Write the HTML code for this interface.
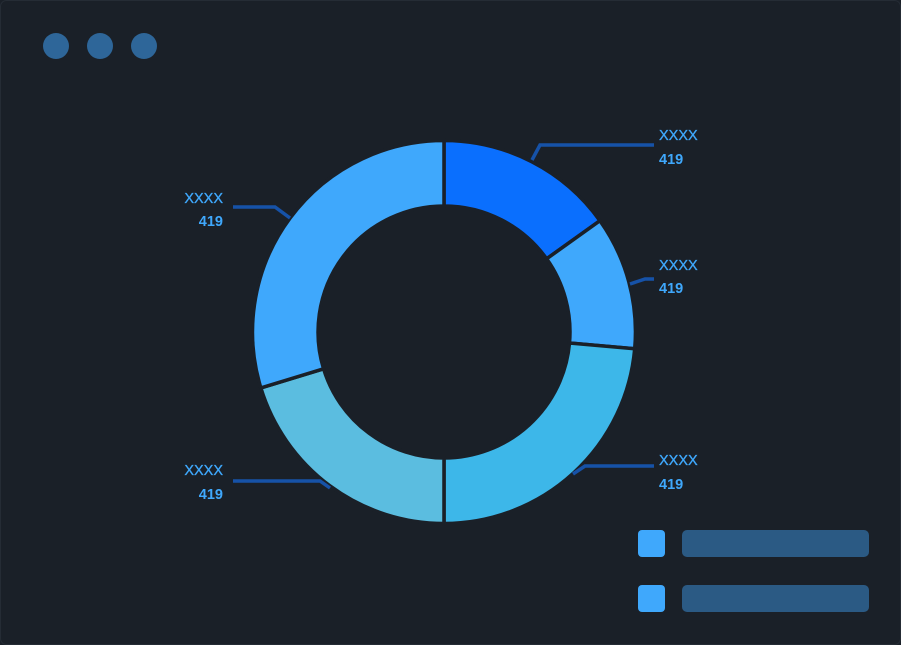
<!DOCTYPE html>
<html><head><style>
html,body{margin:0;padding:0;background:#1a2028;}
body{width:901px;height:645px;overflow:hidden;}
</style></head><body>
<svg width="901" height="645" xmlns="http://www.w3.org/2000/svg" style="display:block">
<rect x="0.5" y="0.5" width="900" height="644" rx="6" fill="#1a2028" stroke="#252c35"/>
<circle cx="56" cy="46" r="13" fill="#2e6699"/>
<circle cx="100" cy="46" r="13" fill="#2e6699"/>
<circle cx="144" cy="46" r="13" fill="#2e6699"/>
<g transform="translate(444,332) scale(1.008) translate(-444,-332)">
<g stroke="#1a2028" stroke-width="3.5" stroke-linejoin="miter">
<path d="M444,142 A190,190 0 0 1 598.7,221.6 L545.8,259.4 A125,125 0 0 0 444,207 Z" fill="#0a6ffe"/>
<path d="M598.7,221.6 A190,190 0 0 1 633.2,348.6 L568.5,342.9 A125,125 0 0 0 545.8,259.4 Z" fill="#3fa8fc"/>
<path d="M633.2,348.6 A190,190 0 0 1 444,522 L444,457 A125,125 0 0 0 568.5,342.9 Z" fill="#3db7e9"/>
<path d="M444,522 A190,190 0 0 1 262.3,387.5 L324.5,368.5 A125,125 0 0 0 444,457 Z" fill="#5bbde0"/>
<path d="M262.3,387.5 A190,190 0 0 1 444,142 L444,207 A125,125 0 0 0 324.5,368.5 Z" fill="#3fa8fc"/>
</g>
</g>
<g fill="none" stroke="#1652a8" stroke-width="3.5">
<polyline points="532,160 540,145 654,145"/>
<polyline points="630,284 645,279 654,279"/>
<polyline points="573,474 585,466 654,466"/>
<polyline points="290,218 275,207 233,207"/>
<polyline points="330,488 320,481 233,481"/>
</g>
<g font-family="Liberation Sans, sans-serif" font-size="14.5" fill="#3fa8fc">
<text x="659" y="140" stroke="#3fa8fc" stroke-width="0.3">XXXX</text>
<text x="659" y="164" font-weight="bold">419</text>
<text x="659" y="270" stroke="#3fa8fc" stroke-width="0.3">XXXX</text>
<text x="659" y="293" font-weight="bold">419</text>
<text x="659" y="465" stroke="#3fa8fc" stroke-width="0.3">XXXX</text>
<text x="659" y="489" font-weight="bold">419</text>
<text x="223" y="203" text-anchor="end" stroke="#3fa8fc" stroke-width="0.3">XXXX</text>
<text x="223" y="226" text-anchor="end" font-weight="bold">419</text>
<text x="223" y="475" text-anchor="end" stroke="#3fa8fc" stroke-width="0.3">XXXX</text>
<text x="223" y="499" text-anchor="end" font-weight="bold">419</text>
</g>
<rect x="638" y="530" width="27" height="27" rx="4" fill="#3fa8fc"/>
<rect x="682" y="530" width="187" height="27" rx="5" fill="#2b5a84"/>
<rect x="638" y="585" width="27" height="27" rx="4" fill="#3fa8fc"/>
<rect x="682" y="585" width="187" height="27" rx="5" fill="#2b5a84"/>
</svg>
</body></html>
